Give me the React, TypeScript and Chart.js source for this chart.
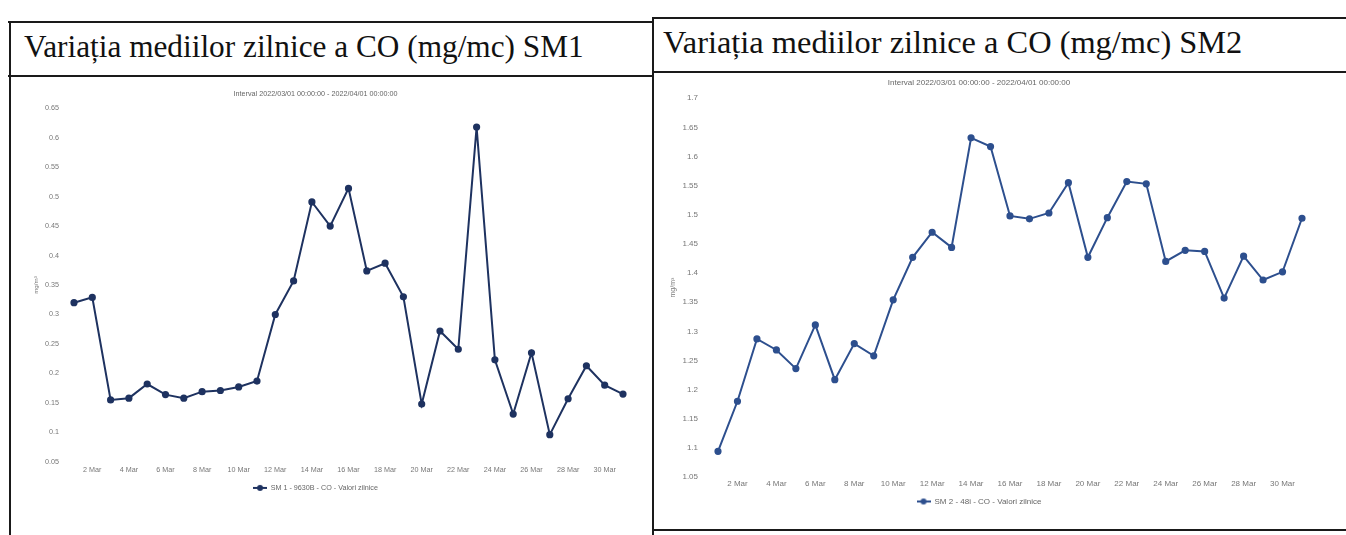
import React, { useEffect, useRef } from 'react';
import { Chart, registerables } from 'chart.js';

Chart.register(...registerables);

// ---- data ----
const DAYS: number[] = [1, 2, 3, 4, 5, 6, 7, 8, 9, 10, 11, 12, 13, 14, 15, 16, 17, 18, 19, 20, 21, 22, 23, 24, 25, 26, 27, 28, 29, 30, 31];
const TICK_DAYS: number[] = [2, 4, 6, 8, 10, 12, 14, 16, 18, 20, 22, 24, 26, 28, 30];
const MONTH_LABEL = 'Mar';

const SM1_CO: number[] = [
  0.32, 0.329, 0.155, 0.158, 0.182, 0.164, 0.158, 0.169, 0.171, 0.177, 0.187,
  0.3, 0.357, 0.491, 0.45, 0.514, 0.374, 0.387, 0.33, 0.148, 0.272, 0.241,
  0.618, 0.223, 0.131, 0.235, 0.096, 0.157, 0.213, 0.18, 0.165,
];
const SM2_CO: number[] = [
  1.094, 1.18, 1.287, 1.268, 1.236, 1.311, 1.217, 1.279, 1.258, 1.354, 1.427,
  1.47, 1.444, 1.632, 1.617, 1.498, 1.493, 1.503, 1.555, 1.427, 1.495, 1.557,
  1.553, 1.42, 1.439, 1.437, 1.357, 1.429, 1.388, 1.402, 1.494,
];

const SM1_Y_RANGE: number[] = [0.05, 0.65];
const SM2_Y_RANGE: number[] = [1.05, 1.7];
const Y_STEP = 0.05;

const TITLE_SM1 = 'Variația mediilor zilnice a CO (mg/mc) SM1';
const TITLE_SM2 = 'Variația mediilor zilnice a CO (mg/mc) SM2';
const SUBTITLE = 'Interval 2022/03/01 00:00:00 - 2022/04/01 00:00:00';
const LEGEND_SM1 = 'SM 1 - 9630B - CO - Valori zilnice';
const LEGEND_SM2 = 'SM 2 - 48i - CO - Valori zilnice';
const Y_TITLE = 'mg/m³';

type PanelProps = {
  values: number[];
  yRange: number[];
  label: string;
  color: string;
  fontSize: number;
  subPad: { top: number; bottom: number };
  yWidth: number;
  yTickPad: number;
  yTitlePad: number;
  xHeight: number;
  xTickPad: number;
  legendPad: number;
  layoutPad: { left: number; right: number; top: number; bottom: number };
  style: React.CSSProperties;
};

function makeMarker(color: string, w: number): HTMLCanvasElement {
  const c = document.createElement('canvas');
  c.width = w;
  c.height = 8;
  const ctx = c.getContext('2d')!;
  ctx.strokeStyle = color;
  ctx.lineWidth = 2;
  ctx.beginPath();
  ctx.moveTo(0, 4);
  ctx.lineTo(w, 4);
  ctx.stroke();
  ctx.fillStyle = color;
  ctx.beginPath();
  ctx.arc(w / 2, 4, 3, 0, Math.PI * 2);
  ctx.fill();
  return c;
}

function ChartPanel(p: PanelProps) {
  const ref = useRef<HTMLCanvasElement | null>(null);
  useEffect(() => {
    if (!ref.current) return;
    const font = { family: '"Liberation Sans", Arial, sans-serif', size: p.fontSize };
    const marker = makeMarker(p.color, 14);
    const chart = new Chart(ref.current, {
      type: 'line',
      data: {
        datasets: [
          {
            label: p.label,
            data: DAYS.map((d, i) => ({ x: d, y: p.values[i] })),
            borderColor: p.color,
            backgroundColor: p.color,
            pointBackgroundColor: p.color,
            pointBorderColor: p.color,
            borderWidth: 2,
            pointRadius: 2.6,
            tension: 0,
            fill: false,
            clip: false as any,
          },
        ],
      },
      options: {
        animation: false,
        responsive: false,
        maintainAspectRatio: false,
        events: [],
        layout: { padding: p.layoutPad },
        plugins: {
          title: { display: false },
          subtitle: {
            display: true,
            text: SUBTITLE,
            color: '#666',
            font,
            padding: p.subPad,
          },
          tooltip: { enabled: false },
          legend: {
            display: true,
            position: 'bottom',
            labels: {
              color: '#666',
              font,
              padding: p.legendPad,
              usePointStyle: true,
              pointStyleWidth: 14,
              generateLabels: () => [
                {
                  text: p.label,
                  pointStyle: marker as any,
                  fillStyle: p.color,
                  strokeStyle: p.color,
                  lineWidth: 0,
                  hidden: false,
                  datasetIndex: 0,
                  fontColor: '#666',
                } as any,
              ],
            },
          },
        },
        scales: {
          x: {
            type: 'linear',
            min: DAYS[0],
            max: DAYS[DAYS.length - 1],
            grid: { display: false, drawTicks: false },
            border: { display: false },
            afterBuildTicks: (s: any) => {
              s.ticks = TICK_DAYS.map((v) => ({ value: v }));
            },
            afterFit: (s: any) => {
              s.height = p.xHeight;
            },
            ticks: {
              autoSkip: false,
              maxRotation: 0,
              padding: p.xTickPad,
              color: '#777',
              font,
              callback: (v: any) => `${v} ${MONTH_LABEL}`,
            },
          },
          y: {
            min: p.yRange[0],
            max: p.yRange[1],
            grid: { display: false, drawTicks: false },
            border: { display: false },
            afterFit: (s: any) => {
              s.width = p.yWidth;
            },
            ticks: {
              stepSize: Y_STEP,
              padding: p.yTickPad,
              color: '#777',
              font,
              callback: (v: any) => String(Number(Number(v).toFixed(2))),
            },
            title: {
              display: true,
              text: Y_TITLE,
              color: '#777',
              font: { family: font.family, size: p.fontSize - 1 },
              padding: { top: p.yTitlePad, bottom: 0 },
            },
          },
        },
      },
    });
    return () => chart.destroy();
  }, []);
  const w = p.style.width as number;
  const h = p.style.height as number;
  return <canvas ref={ref} width={w} height={h} style={{ position: 'absolute', ...p.style }} />;
}

const line = (s: React.CSSProperties): React.CSSProperties => ({ position: 'absolute', background: '#1a1a1a', ...s });

export default function App() {
  return (
    <div
      style={{
        position: 'absolute',
        left: 0,
        top: 0,
        width: 1346,
        height: 535,
        overflow: 'hidden',
        background: '#fff',
      }}
    >
      {/* table lines */}
      <div style={line({ left: 8, top: 21, width: 645, height: 2 })} />
      <div style={line({ left: 652, top: 17, width: 694, height: 2 })} />
      <div style={line({ left: 8, top: 75, width: 645, height: 2 })} />
      <div style={line({ left: 652, top: 71, width: 694, height: 2 })} />
      <div style={line({ left: 9, top: 21, width: 2, height: 514 })} />
      <div style={line({ left: 652, top: 17, width: 2, height: 518 })} />
      <div style={line({ left: 652, top: 529, width: 694, height: 2 })} />

      <div
        style={{
          position: 'absolute',
          left: 24,
          top: 27,
          fontFamily: '"Liberation Serif", "Times New Roman", serif',
          fontSize: 31.3,
          lineHeight: '40px',
          color: '#111',
          whiteSpace: 'nowrap',
        }}
      >
        {TITLE_SM1}
      </div>
      <div
        style={{
          position: 'absolute',
          left: 663,
          top: 22,
          fontFamily: '"Liberation Serif", "Times New Roman", serif',
          fontSize: 32.4,
          lineHeight: '40px',
          color: '#111',
          whiteSpace: 'nowrap',
        }}
      >
        {TITLE_SM2}
      </div>

      <ChartPanel
        values={SM1_CO}
        yRange={SM1_Y_RANGE}
        label={LEGEND_SM1}
        color="#1e3260"
        fontSize={7.2}
        subPad={{ top: 11.8, bottom: 9.8 }}
        yWidth={66}
        yTickPad={15}
        yTitlePad={25}
        xHeight={16.5}
        xTickPad={4}
        legendPad={6}
        layoutPad={{ left: 0, right: 29, top: 0, bottom: 31.5 }}
        style={{ left: 8, top: 78, width: 644, height: 455 }}
      />
      <ChartPanel
        values={SM2_CO}
        yRange={SM2_Y_RANGE}
        label={LEGEND_SM2}
        color="#2d4f8e"
        fontSize={8}
        subPad={{ top: 15.8, bottom: 10.8 }}
        yWidth={62}
        yTickPad={20}
        yTitlePad={13}
        xHeight={14.5}
        xTickPad={2}
        legendPad={6}
        layoutPad={{ left: 0, right: 16, top: 0, bottom: 14.5 }}
        style={{ left: 656, top: 62, width: 662, height: 468 }}
      />
    </div>
  );
}
